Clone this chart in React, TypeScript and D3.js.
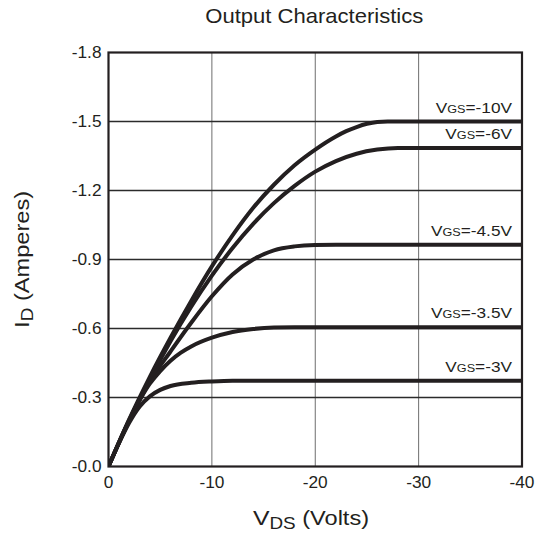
import React from 'react';
import * as d3 from 'd3';

// chart values (Volts, Amperes)
const xTicks = [0, -10, -20, -30, -40];
const xTickLabels = ['0', '-10', '-20', '-30', '-40'];
const yTicks = [0, -0.3, -0.6, -0.9, -1.2, -1.5, -1.8];
const yTickLabels = ['-0.0', '-0.3', '-0.6', '-0.9', '-1.2', '-1.5', '-1.8'];

const vgsLabels = ['-10V', '-6V', '-4.5V', '-3.5V', '-3V'];

const vgs10: [number, number][] = [
  [0, 0], [-2, -0.205], [-4, -0.39], [-6, -0.56], [-8, -0.72], [-10, -0.87],
  [-12, -1.005], [-14, -1.125], [-16, -1.225], [-18, -1.31], [-20, -1.378],
  [-22, -1.435], [-23, -1.458], [-24, -1.476], [-25, -1.49], [-26, -1.498],
  [-27, -1.5], [-40, -1.5],
];
const vgs6: [number, number][] = [
  [0, 0], [-2, -0.2], [-4, -0.38], [-6, -0.545], [-8, -0.695], [-10, -0.83],
  [-12, -0.95], [-14, -1.055], [-16, -1.145], [-18, -1.22], [-20, -1.282],
  [-22, -1.328], [-24, -1.36], [-26, -1.378], [-28, -1.385], [-40, -1.385],
];
const vgs45: [number, number][] = [
  [0, 0], [-2, -0.2], [-4, -0.37], [-6, -0.5], [-8, -0.625], [-10, -0.74],
  [-12, -0.835], [-14, -0.9], [-16, -0.94], [-18, -0.957], [-20, -0.963],
  [-22, -0.964], [-40, -0.964],
];
const vgs35: [number, number][] = [
  [0, 0], [-2, -0.2], [-4, -0.36], [-5, -0.415], [-6, -0.46], [-7, -0.495],
  [-8, -0.522], [-10, -0.56], [-12, -0.585], [-14, -0.598], [-16, -0.604],
  [-18, -0.605], [-40, -0.605],
];
const vgs3: [number, number][] = [
  [0, 0], [-1, -0.1], [-2, -0.19], [-3, -0.26], [-4, -0.305], [-5, -0.333],
  [-6, -0.35], [-8, -0.364], [-10, -0.37], [-12, -0.373], [-40, -0.373],
];

const curves = [vgs10, vgs6, vgs45, vgs35, vgs3];

const FONT = '"Liberation Sans", Arial, Helvetica, sans-serif';
const INK = '#231f20';

export default function App() {
  const margin = { top: 52.5, right: 13, bottom: 68.5, left: 108.5 };
  const width = 535;
  const height = 535;

  const x = d3.scaleLinear()
    .domain([0, -40])
    .range([margin.left, width - margin.right]);

  const y = d3.scaleLinear()
    .domain([0, -1.8])
    .range([height - margin.bottom, margin.top]);

  const line = d3.line<[number, number]>()
    .x(d => x(d[0]))
    .y(d => y(d[1]))
    .curve(d3.curveMonotoneX);

  const x0 = x(0), x1 = x(-40), y0 = y(0), y1 = y(-1.8);

  return (
    <svg
      width={width}
      height={height}
      style={{ position: 'absolute', left: 0, top: 0, background: '#fff' }}
      fontFamily={FONT}
    >
      <defs>
        <clipPath id="plot">
          <rect x={x0} y={y1} width={x1 - x0} height={y0 - y1} />
        </clipPath>
      </defs>

      {/* grid */}
      {xTicks.slice(1, -1).map(t => (
        <line key={'gx' + t} x1={x(t)} x2={x(t)} y1={y1} y2={y0} stroke="#6d6d6d" strokeWidth={1} />
      ))}
      {yTicks.slice(1, -1).map(t => (
        <line key={'gy' + t} x1={x0} x2={x1} y1={y(t)} y2={y(t)} stroke="#2b2b2b" strokeWidth={1.3} />
      ))}

      {/* curves */}
      <g clipPath="url(#plot)">
        {curves.map((c, i) => (
          <path key={i} d={line(c) || ''} fill="none" stroke={INK} strokeWidth={4} strokeLinejoin="round" />
        ))}
      </g>

      {/* frame */}
      <rect x={x0} y={y1} width={x1 - x0} height={y0 - y1} fill="none" stroke={INK} strokeWidth={2.2} />

      {/* curve labels */}
      {curves.map((c, i) => (
        <text
          key={'l' + i}
          transform={`translate(512,${y(c[c.length - 1][1]) - 9}) scale(1.15,1)`}
          textAnchor="end"
          fill={INK}
          fontSize={15}
        >
          <tspan>V</tspan>
          <tspan fontSize={11}>GS</tspan>
          <tspan>={vgsLabels[i]}</tspan>
        </text>
      ))}

      {/* y ticks */}
      {yTicks.map((t, i) => (
        <text
          key={'ty' + t}
          transform={`translate(${x0 - 7},${y(t)}) scale(1.08,1)`}
          dy="0.36em"
          textAnchor="end"
          fontSize={16}
          fill={INK}
        >
          {yTickLabels[i]}
        </text>
      ))}

      {/* x ticks */}
      {xTicks.map((t, i) => (
        <text
          key={'tx' + t}
          transform={`translate(${x(t)},${y0 + 21}) scale(1.08,1)`}
          textAnchor="middle"
          fontSize={16}
          fill={INK}
        >
          {xTickLabels[i]}
        </text>
      ))}

      {/* title */}
      <text transform={`translate(${(x0 + x1) / 2 - 1},23) scale(1.05,1)`} textAnchor="middle" fontSize={21} fill={INK}>
        Output Characteristics
      </text>

      {/* x axis title */}
      <text transform={`translate(311,525) scale(1.18,1)`} textAnchor="middle" fill={INK} fontSize={21}>
        <tspan>V</tspan>
        <tspan fontSize={16} dy={4}>DS</tspan>
        <tspan fontSize={20} dy={-4}> (Volts)</tspan>
      </text>

      {/* y axis title */}
      <text
        transform={`translate(29,${(y0 + y1) / 2}) rotate(-90) scale(1.18,1)`}
        textAnchor="middle"
        fill={INK}
        fontSize={21}
      >
        <tspan>I</tspan>
        <tspan fontSize={16} dy={4}>D</tspan>
        <tspan fontSize={20} dy={-4}> (Amperes)</tspan>
      </text>
    </svg>
  );
}
